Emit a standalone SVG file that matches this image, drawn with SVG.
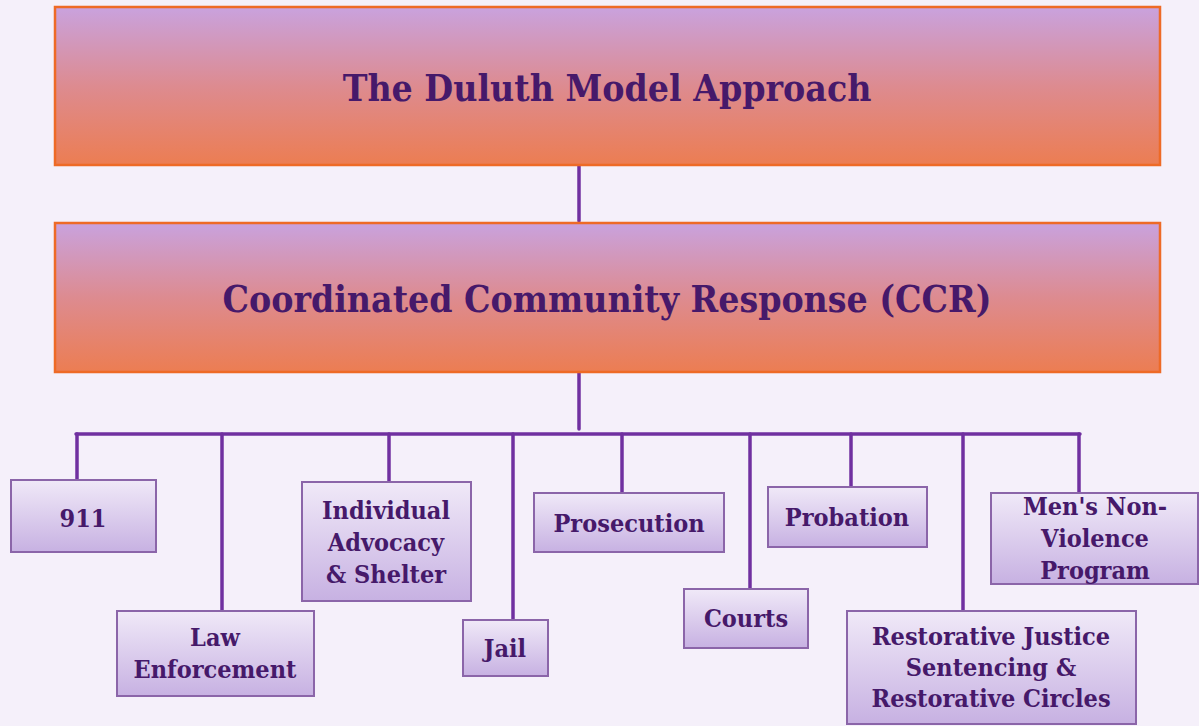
<svg xmlns="http://www.w3.org/2000/svg" width="1199" height="726" viewBox="0 0 1199 726">
<defs>
<linearGradient id="hg" x1="0" y1="0" x2="0" y2="1">
<stop offset="0" stop-color="#c9a2de"/>
<stop offset="0.5" stop-color="#dd8b90"/>
<stop offset="1" stop-color="#ec7d52"/>
</linearGradient>
<linearGradient id="ng" x1="0" y1="0" x2="0" y2="1">
<stop offset="0" stop-color="#f0e9f8"/>
<stop offset="1" stop-color="#c7b1e2"/>
</linearGradient>
<style>
.hb{fill:url(#hg);stroke:#ee6a26;stroke-width:2.5}
.nb{fill:url(#ng);stroke:#8b65a9;stroke-width:2}
.t{font-family:"DejaVu Serif Condensed","DejaVu Serif",serif;font-weight:bold;fill:#46196a;text-anchor:middle}
.ht{font-size:37px}
.nt{font-size:25px}
.c{stroke:#7030a0;stroke-width:3.5;fill:none;stroke-linecap:round}
</style>
</defs>
<rect width="1199" height="726" fill="#f5f0fa"/>
<g id="connectors">
<line class="c" x1="579" y1="166" x2="579" y2="221"/>
<line class="c" x1="579" y1="373" x2="579" y2="429"/>
<line class="c" x1="76" y1="434" x2="1080" y2="434"/>
<line class="c" x1="77" y1="434" x2="77" y2="480"/>
<line class="c" x1="222" y1="434" x2="222" y2="611"/>
<line class="c" x1="389" y1="434" x2="389" y2="482"/>
<line class="c" x1="513" y1="434" x2="513" y2="620"/>
<line class="c" x1="622" y1="434" x2="622" y2="492"/>
<line class="c" x1="750" y1="434" x2="750" y2="589"/>
<line class="c" x1="851" y1="434" x2="851" y2="487"/>
<line class="c" x1="963" y1="434" x2="963" y2="610"/>
<line class="c" x1="1079" y1="434" x2="1079" y2="492"/>
</g>
<g id="duluth">
<rect class="hb" x="55" y="7" width="1105" height="158"/>
<text class="t ht" x="607" y="101">The Duluth Model Approach</text>
</g>
<g id="ccr">
<rect class="hb" x="55" y="223" width="1105" height="149"/>
<text class="t ht" x="607" y="312">Coordinated Community Response (CCR)</text>
</g>
<g id="n911">
<rect class="nb" x="11" y="480" width="145" height="72"/>
<text class="t nt" x="83" y="527">911</text>
</g>
<g id="law">
<rect class="nb" x="117" y="611" width="197" height="85"/>
<text class="t nt" x="215" y="646">Law</text>
<text class="t nt" x="215" y="678">Enforcement</text>
</g>
<g id="advocacy">
<rect class="nb" x="302" y="482" width="169" height="119"/>
<text class="t nt" x="386" y="519">Individual</text>
<text class="t nt" x="386" y="551">Advocacy</text>
<text class="t nt" x="386" y="583">&amp; Shelter</text>
</g>
<g id="jail">
<rect class="nb" x="463" y="620" width="85" height="56"/>
<text class="t nt" x="505" y="657">Jail</text>
</g>
<g id="prosecution">
<rect class="nb" x="534" y="493" width="190" height="59"/>
<text class="t nt" x="629" y="532">Prosecution</text>
</g>
<g id="courts">
<rect class="nb" x="684" y="589" width="124" height="59"/>
<text class="t nt" x="746" y="627">Courts</text>
</g>
<g id="probation">
<rect class="nb" x="768" y="487" width="159" height="60"/>
<text class="t nt" x="847" y="526">Probation</text>
</g>
<g id="restorative">
<rect class="nb" x="847" y="611" width="289" height="113"/>
<text class="t nt" x="991" y="645">Restorative Justice</text>
<text class="t nt" x="991" y="676">Sentencing &amp;</text>
<text class="t nt" x="991" y="707">Restorative Circles</text>
</g>
<g id="mens">
<rect class="nb" x="991" y="493" width="207" height="91"/>
<text class="t nt" x="1095" y="515">Men's Non-</text>
<text class="t nt" x="1095" y="547">Violence</text>
<text class="t nt" x="1095" y="579">Program</text>
</g>
</svg>
